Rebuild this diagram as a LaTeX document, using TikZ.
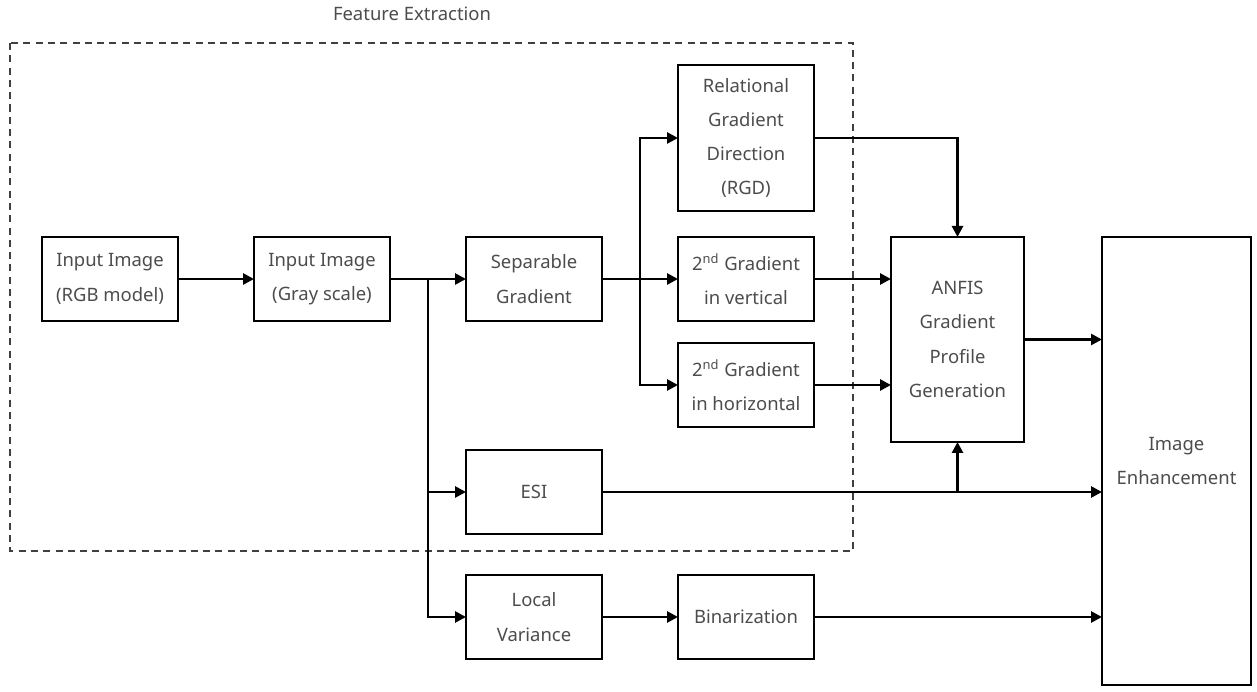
\documentclass[tikz,border=0pt]{standalone}
\usepackage{fontspec}
\setmainfont{Noto Sans}
\usepackage{xcolor}
\usepackage{tikz}
\usetikzlibrary{arrows.meta, positioning, calc}

\begin{document}
\begin{tikzpicture}[
  node distance=0.52cm and 1.52cm,
  box/.style={rectangle, draw=black, line width=1.5pt, outer sep=0pt, minimum width=2.72cm, minimum height=1.68cm, align=center, text=black!70, font=\fontsize{10.5}{19.5}\selectfont},
  arrow/.style={line width=1.5pt, -{Triangle[length=2.2mm, width=2.2mm]}},
  frame/.style={draw=black!75, line width=1pt, dash pattern=on 4pt off 3pt}
]
\useasboundingbox (0,0) rectangle (25.14,-13.84);

% Feature extraction frame
\draw [frame] (0.2,-0.86) rectangle (17.06,-11.02);
\node (fe) at (8.24,-0.28) [text=black!70, font=\fontsize{10.5}{12}\selectfont] {Feature Extraction};

% Main Flow
\node (rgb) at (2.2,-5.58) [box] {Input Image\\(RGB model)};
\node (gray) [box, right=of rgb] {Input Image\\(Gray scale)};
\node (sep) [box, right=of gray] {Separable\\Gradient};
\node (vert) [box, right=of sep] {2\textsuperscript{nd} Gradient\\in vertical};
\node (rgd) [box, above=of vert, minimum height=2.92cm] {Relational\\Gradient\\Direction\\(RGD)};
\node (horiz) [box, below=0.44cm of vert] {2\textsuperscript{nd} Gradient\\in horizontal};
\node (anfis) [box, right=1.54cm of vert.north east, anchor=north west, minimum width=2.66cm, minimum height=4.1cm] {ANFIS\\Gradient\\Profile\\Generation};
\node (enh) [box, right=1.56cm of anfis.north east, anchor=north west, minimum width=2.98cm, minimum height=8.96cm] {Image\\Enhancement};

% Lower branch
\node (esi) [box, below=2.58cm of sep] {ESI};
\node (locvar) [box, below=0.82cm of esi] {Local\\Variance};
\node (bin) [box, right=of locvar] {Binarization};

% Split points
\coordinate (split) at ($(gray.east)!0.5!(sep.west)$);
\coordinate (split2) at ($(sep.east)!0.5!(vert.west)$);
\coordinate (join) at (esi -| anfis.south);

% Arrows
\draw [arrow] (rgb) -- (gray);
\draw [arrow] (gray) -- (sep);
\draw [arrow] (split) |- (esi);
\draw [arrow] (split) |- (locvar);
\draw [arrow] (sep) -- (vert);
\draw [arrow] (split2) |- (rgd);
\draw [arrow] (split2) |- (horiz);
\draw [arrow] (rgd.east) -| (anfis.north);
\draw [arrow] (vert) -- (vert -| anfis.west);
\draw [arrow] (horiz) -- (horiz -| anfis.west);
\draw [arrow] (anfis) -- (anfis -| enh.west);
\draw [arrow] (esi) -- (esi -| enh.west);
\draw [arrow] (join) -- (anfis.south);
\draw [arrow] (locvar) -- (bin);
\draw [arrow] (bin) -- (bin -| enh.west);
\end{tikzpicture}
\end{document}
